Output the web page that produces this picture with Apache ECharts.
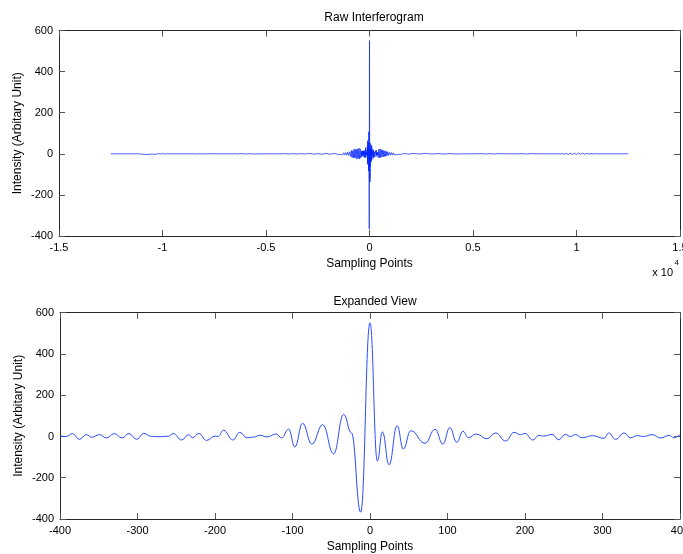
<!DOCTYPE html>
<html>
<head>
<meta charset="utf-8">
<script src="https://cdn.jsdelivr.net/npm/echarts@6/dist/echarts.min.js"></script>
<style>
  html, body { margin: 0; padding: 0; background: #fff; }
  #chart { width: 683px; height: 554px; }
</style>
</head>
<body>
<div id="chart"></div>
<script>
// Expanded view around zero path difference (sampling point, intensity)
const expandedX = [-400, -392, -384, -375, -366, -359, -349, -340, -330, -320, -311, -301, -292, -282, -272, -260,
  -254, -243, -234, -229, -221, -211, -200, -196, -189, -177, -168, -159, -150, -142, -133, -121, -114,
  -105, -97, -87, -75, -61, -47, -34, -24, -12, 0, 9.5, 16, 24.6, 35, 43, 52.6, 71, 84, 94,
  103, 112, 120, 127, 137, 151, 162, 175, 186, 194, 200, 210, 218, 224, 235, 243.5, 252, 258.6, 265,
  274, 287, 302, 308, 317, 328, 336, 345, 353, 364, 375, 386, 392, 400];
const expandedY = [2, 0, 14, -14, 9, -4, 9, -7, 14, -7, 14, -14, 15, 0, -1, 1,
  14, -17, 9, -6, 15, -19, 2, 0, 30, -17, 20, -6, -3, 6, -2, 12, -7,
  36, -51, 64, -37, 57, -84, 107, 18, -367, 551, -119, 22, -137, 52, -61, 28, -33, 35, -37,
  43, -28, 25, -6, 12, -11, 17, -22, 20, 9, 15, -17, 5, 2, 10, -16, 10, 0, 9,
  -6, 4, -9, 17, -14, 17, -6, 4, 0, 9, -7, 5, -6, 9];

// Raw record outside the central burst, left wing
const rawLeftX = [-12500, -11100, -11050, -11000, -10950, -10900, -10850, -10800, -10750, -10700, -10650,
  -10600, -10550, -10500, -10450, -10400, -10350, -10300, -10200, -10100, -10000, -9900, -9800,
  -8400, -8350, -8300, -8200, -8100, -8000, -7900, -7800, -7700,
  -6600, -6500, -6400, -6200, -6000, -5800, -5600, -5400,
  -4200, -4100, -3900, -3700, -3500, -3300, -3100, -2900, -2700, -2500, -2300, -2100, -1900, -1700,
  -1500, -1450, -1400, -1350, -1300, -1250, -1200, -1150, -1100, -1050, -1000, -950,
  -900, -870, -840, -810, -780, -750, -720, -690, -660, -630, -600, -570, -540, -510, -480, -450, -420];
const rawLeftY = [0, 0, 2, -2, 3, -2, 4, -3, 2, -3, 2,
  -2, 3, -1, 2, -3, 2, -2, 1, -1, 2, -1, 0,
  0, 1, -1, 1, -1, 1, -1, 1, 0,
  0, 1, -1, 1, -1, 1, -1, 0,
  0, 1, -1, 1, -1, 1, -1, 2, -2, 1, -2, 2, -2, 2,
  -3, 3, -4, 4, -5, 5, -6, 6, -7, 8, -8, 10,
  -14, 16, -18, 15, -20, 22, -18, 24, -22, 20, -26, 24, -22, 28, -25, 24, -20];

// Raw record outside the central burst, right wing
const rawRightX = [420, 450, 480, 510, 540, 570, 600, 630, 660, 690, 720, 750, 780, 810, 840, 870,
  900, 950, 1000, 1050, 1100, 1150, 1200, 1250, 1300, 1350, 1400, 1450, 1500, 1700, 1900,
  2100, 2400, 2700, 3000, 3300, 3600, 3900, 4200, 4500,
  5200, 5400, 5600, 5800, 6000, 6200, 6400,
  7200, 7400, 7600, 7800, 8000,
  9200, 9300, 9400, 9500, 9600, 9700, 9800, 9900, 10000, 10100, 10200, 10300, 10400, 10500, 10600,
  10700, 10800, 10900, 11000, 12500];
const rawRightY = [-18, 22, -20, 24, -18, 20, -16, 18, -15, 16, -13, 14, -12, 12, -10, 10,
  -8, 7, -7, 6, -6, 5, -5, 4, -4, 4, -3, 3, -3, 2, -2,
  2, -1, 2, -1, 1, -1, 1, -1, 0,
  0, 1, -1, 1, -1, 1, 0,
  0, 1, -1, 1, 0,
  0, 1, -2, 2, -3, 3, -3, 2, -3, 4, -2, 3, -2, 2, -1,
  1, -1, 1, 0, 0];

const yTicks = [-400, -200, 0, 200, 400, 600];

const toPairs = (xs, ys) => xs.map((x, i) => [x, ys[i]]);
const rawData = toPairs(rawLeftX, rawLeftY)
  .concat(toPairs(expandedX, expandedY))
  .concat(toPairs(rawRightX, rawRightY));
const expandedData = toPairs(expandedX, expandedY);

const FONT = 'Liberation Sans';
const TXT = '#000';
const LINE = '#262626';
const TICK = '#555';

function boxAxis(gridIndex, position) {
  return {
    type: 'value', gridIndex, position,
    axisLine: { show: true, onZero: false, lineStyle: { color: LINE, width: 1 } },
    axisTick: { show: true, inside: true, length: 6, lineStyle: { color: TICK } },
    axisLabel: { show: false },
    splitLine: { show: false }
  };
}

const xMain = (gridIndex, min, max, interval, fmt) => ({
  type: 'value', gridIndex, min, max, interval, position: 'bottom',
  name: 'Sampling Points', nameLocation: 'middle', nameGap: 22, nameMoveOverlap: false,
  nameTextStyle: { fontFamily: FONT, fontSize: 12, color: TXT },
  axisLine: { show: true, onZero: false, lineStyle: { color: LINE, width: 1 } },
  axisTick: { show: true, inside: true, length: 6, lineStyle: { color: TICK } },
  axisLabel: { fontFamily: FONT, fontSize: 11, color: TXT, margin: 6, formatter: fmt, showMinLabel: true, showMaxLabel: true },
  splitLine: { show: false }
});

const yMain = (gridIndex) => ({
  type: 'value', gridIndex, min: yTicks[0], max: yTicks[yTicks.length - 1], interval: 200, position: 'left',
  name: 'Intensity (Arbitary Unit)', nameLocation: 'middle', nameGap: 35, nameMoveOverlap: false,
  nameTextStyle: { fontFamily: FONT, fontSize: 12, color: TXT },
  axisLine: { show: true, onZero: false, lineStyle: { color: LINE, width: 1 } },
  axisTick: { show: true, inside: true, length: 6, lineStyle: { color: TICK } },
  axisLabel: { fontFamily: FONT, fontSize: 11, color: TXT, margin: 6 },
  splitLine: { show: false }
});

const boxX = (gridIndex, min, max, interval) => Object.assign(boxAxis(gridIndex, 'top'), { min, max, interval });
const boxY = (gridIndex) => Object.assign(boxAxis(gridIndex, 'right'), { min: -400, max: 600, interval: 200 });

const chart = echarts.init(document.getElementById('chart'), null, { renderer: 'canvas' });
chart.setOption({
  animation: false,
  backgroundColor: '#fff',
  title: [
    { text: 'Raw Interferogram', left: 369, top: 7, textAlign: 'center',
      textStyle: { fontFamily: FONT, fontSize: 12, fontWeight: 'normal', color: TXT } },
    { text: 'Expanded View', left: 370, top: 291, textAlign: 'center',
      textStyle: { fontFamily: FONT, fontSize: 12, fontWeight: 'normal', color: TXT } }
  ],
  grid: [
    { left: 59, right: 3, top: 30.5, height: 205.5, containLabel: false, outerBoundsMode: 'none' },
    { left: 60, right: 3, top: 312.7, height: 206.3, containLabel: false, outerBoundsMode: 'none' }
  ],
  xAxis: [
    xMain(0, -15000, 15000, 5000, v => String(Math.round(v / 1000) / 10)),
    boxX(0, -15000, 15000, 5000),
    xMain(1, -400, 400, 100, v => String(v)),
    boxX(1, -400, 400, 100)
  ],
  yAxis: [yMain(0), boxY(0), yMain(1), boxY(1)],
  graphic: [
    { type: 'text', right: 10, top: 267, style: { text: 'x 10', font: '11px "Liberation Sans"', fill: TXT } },
    { type: 'text', right: 4, top: 259, style: { text: '4', font: '8px "Liberation Sans"', fill: TXT } }
  ],
  series: [
    { type: 'line', xAxisIndex: 0, yAxisIndex: 0, data: rawData, showSymbol: false, smooth: false,
      lineStyle: { color: '#0022ff', width: 0.7 }, clip: true },
    { type: 'line', xAxisIndex: 2, yAxisIndex: 2, data: expandedData, showSymbol: false,
      smooth: 0.45, smoothMonotone: 'x',
      lineStyle: { color: '#2a4cff', width: 1 }, clip: true }
  ]
});
</script>
</body>
</html>
